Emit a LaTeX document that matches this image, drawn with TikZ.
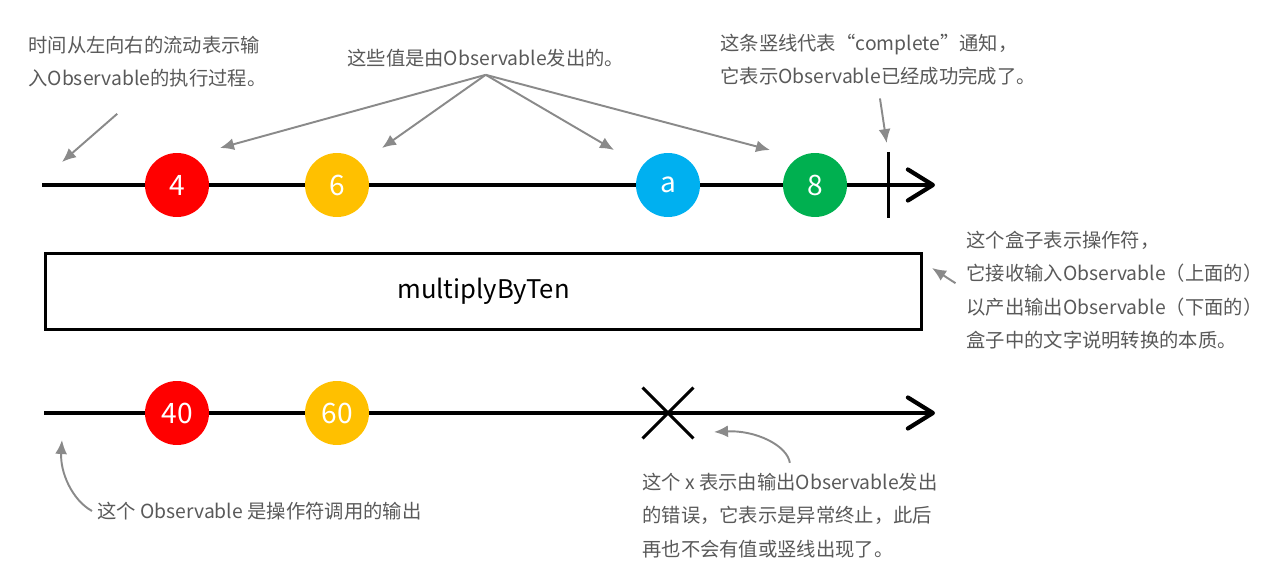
\documentclass[tikz,border=0pt]{standalone}
\usepackage{fontspec}
\setmainfont{Noto Sans CJK SC}
\usetikzlibrary{arrows.meta,shapes.misc}
\definecolor{marbleRed}{HTML}{FF0000}
\definecolor{marbleYellow}{HTML}{FFC000}
\definecolor{marbleBlue}{HTML}{00B0F0}
\definecolor{marbleGreen}{HTML}{00B050}
\definecolor{noteGray}{HTML}{595959}
\definecolor{pointerGray}{HTML}{8A8A8A}

\begin{document}
\begin{tikzpicture}[x=0.02cm, y=-0.02cm,
        timeline/.style = {line width=2.4pt, black, -{Straight Barb[length=0.5cm, width=0.62cm, round]}},
        marble/.style = {circle, minimum size=1.28cm, inner sep=0pt, text=white, font={\fontsize{16}{19}\selectfont}},
        note/.style = {align=left, inner sep=0pt, text=noteGray, font={\fontsize{11}{19}\selectfont}},
        pointer/.style = {line width=1.1pt, pointerGray, -{Latex[length=0.28cm, width=0.24cm]}}]
        \useasboundingbox (0,0) rectangle (1263,563);

        % input Observable
        \coordinate (inStart) at (42,185);
        \coordinate (inEnd) at (935,185);
        \draw[timeline] (inStart) -- (inEnd);
        \node[marble, fill=marbleRed] (in4) at (177,185) {4};
        \node[marble, fill=marbleYellow] (in6) at (337,185) {6};
        \node[marble, fill=marbleBlue] (inA) at (668,185) {a};
        \node[marble, fill=marbleGreen] (in8) at (815,185) {8};
        \coordinate (doneTop) at (888,152);
        \coordinate (doneBot) at (888,218);
        \draw[line width=1.7pt] (doneTop) -- (doneBot);

        % operator
        \node[draw, line width=1.7pt, minimum width=17.52cm, minimum height=1.52cm, font={\fontsize{14.6}{18}\selectfont}] (op) at (483.5,291.5) {multiplyByTen};

        % output Observable
        \coordinate (outStart) at (44,413);
        \coordinate (outEnd) at (935,413);
        \draw[timeline] (outStart) -- (outEnd);
        \node[marble, fill=marbleRed] (out40) at (177,413) {40};
        \node[marble, fill=marbleYellow] (out60) at (337,413) {60};
        \node[cross out, draw, line width=1.7pt, minimum size=0.96cm, inner sep=0pt] (err) at (668,413) {};

        % notes
        \node[note, anchor=west] (flowNote) at (28,61.5) {时间从左向右的流动表示输\\入Observable的执行过程。};
        \node[note, anchor=west] (valueNote) at (347,58) {这些值是由Observable发出的。};
        \node[note, anchor=west] (doneNote) at (720,59.5) {这条竖线代表“complete”通知，\\它表示Observable已经成功完成了。};
        \node[note, anchor=west] (opNote) at (966,290) {这个盒子表示操作符，\\它接收输入Observable（上面的）\\以产出输出Observable（下面的）\\盒子中的文字说明转换的本质。};
        \node[note, anchor=west] (outNote) at (97,511) {这个 Observable 是操作符调用的输出};
        \node[note, anchor=west] (errNote) at (642,515.5) {这个 x 表示由输出Observable发出\\的错误，它表示是异常终止，此后\\再也不会有值或竖线出现了。};

        \coordinate (flowTip) at (62,162);
        \draw[pointer, shorten <=0.8cm] (flowNote.south) -- (flowTip);
        \coordinate (tip4) at (220,148);
        \coordinate (tip6) at (382,148);
        \coordinate (tipA) at (614,150);
        \coordinate (tip8) at (770,150);
        \foreach \t in {tip4,tip6,tipA,tip8}
                \draw[pointer] ([yshift=-0.15cm]valueNote.south) -- (\t);
        \draw[pointer, shorten <=0.26cm, shorten >=0.18cm] (doneNote.south) -- (doneTop);
        \coordinate (opTip) at (932,268);
        \draw[pointer, shorten <=0.25cm] (opNote.west) -- (opTip);
        \coordinate (outTip) at (62,440);
        \draw[pointer] ([xshift=-0.1cm]outNote.west) .. controls (72,500) and (60,472) .. (outTip);
        \coordinate (errTip) at (714,432);
        \draw[pointer] ([yshift=0.2cm]errNote.north) .. controls (787,445) and (755,430) .. (errTip);
\end{tikzpicture}
\end{document}
